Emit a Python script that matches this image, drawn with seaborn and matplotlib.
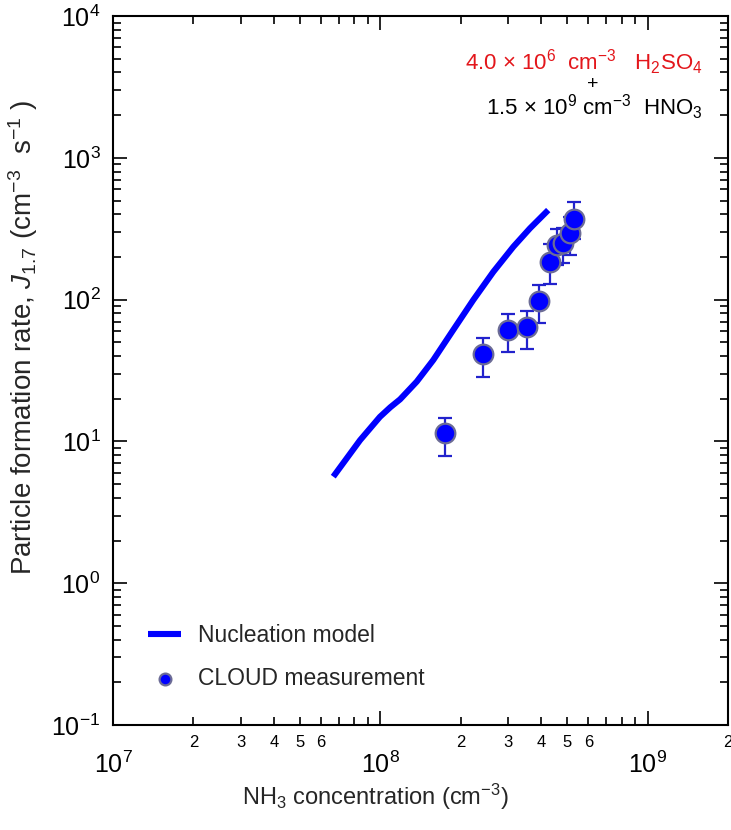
import numpy as np
import pandas as pd
import matplotlib
matplotlib.use("Agg")
import matplotlib.pyplot as plt
import matplotlib.ticker as mticker
import seaborn as sns

# ---- data ----
model_nh3 = [6.67e7, 8.40e7, 9.97e7, 1.09e8, 1.186e8, 1.369e8, 1.579e8, 1.875e8,
             2.228e8, 2.648e8, 3.147e8, 3.63e8, 4.25e8]
model_j = [5.64, 10.2, 14.9, 17.4, 19.8, 26.4, 37.5, 61.1, 99.4, 157, 236, 318, 428]

meas_nh3 = [1.75e8, 2.43e8, 3.01e8, 3.53e8, 3.94e8, 4.31e8, 4.57e8, 4.84e8,
            5.13e8, 5.32e8]
meas_j = [11.4, 41.1, 61.1, 63.8, 98.2, 185, 243, 249, 293, 373]
meas_lo = [7.9, 28.6, 43.0, 44.9, 68.1, 129, 175, 180, 206, 266]
meas_hi = [14.6, 53.4, 78.7, 83.2, 126.8, 245, 313, 320, 380, 490]

minor_labels = [2, 3, 4, 5, 6]

model_df = pd.DataFrame({"nh3": model_nh3, "j": model_j})
meas_df = pd.DataFrame({"nh3": meas_nh3, "j": meas_j})

# ---- style ----
sns.set_style("ticks")
plt.rcParams["font.family"] = ["Liberation Sans", "DejaVu Sans"]
plt.rcParams["mathtext.fontset"] = "custom"
plt.rcParams["mathtext.rm"] = "Liberation Sans"
plt.rcParams["mathtext.it"] = "Liberation Sans:italic"
plt.rcParams["mathtext.bf"] = "Liberation Sans:bold"

fig = plt.figure(figsize=(7.31, 8.30), dpi=100)
ax = fig.add_axes([0.1546, 0.1265, 0.8413, 0.8542])

sns.lineplot(data=model_df, x="nh3", y="j", ax=ax, color="#0000ff",
             linewidth=4.4, label="Nucleation model", zorder=2,
             solid_capstyle="butt", solid_joinstyle="round")

yerr = np.array([np.array(meas_j) - np.array(meas_lo),
                 np.array(meas_hi) - np.array(meas_j)])
ax.errorbar(meas_nh3, meas_j, yerr=yerr, fmt="none", ecolor="#2222cc",
            elinewidth=1.6, capsize=5, capthick=1.6, zorder=3)

sns.scatterplot(data=meas_df, x="nh3", y="j", ax=ax, color="#0000ff",
                edgecolor="#6c6c96", linewidth=1.6, s=200, zorder=4,
                label="CLOUD measurement")

ax.set_xscale("log")
ax.set_yscale("log")
ax.set_xlim(1e7, 2e9)
ax.set_ylim(1e-1, 1e4)

# ticks
ax.xaxis.set_major_locator(mticker.LogLocator(base=10, numticks=10))
ax.xaxis.set_minor_locator(mticker.LogLocator(base=10, subs=np.arange(2, 10), numticks=20))
ax.yaxis.set_major_locator(mticker.LogLocator(base=10, numticks=10))
ax.yaxis.set_minor_locator(mticker.LogLocator(base=10, subs=np.arange(2, 10), numticks=20))


def minor_fmt(v, pos):
    if v <= 0:
        return ""
    e = np.floor(np.log10(v) + 1e-9)
    m = int(round(v / 10 ** e))
    return str(m) if m in minor_labels else ""


ax.xaxis.set_minor_formatter(mticker.FuncFormatter(minor_fmt))
ax.yaxis.set_minor_formatter(mticker.NullFormatter())

ax.tick_params(axis="both", which="both", direction="in", top=True, right=True,
               width=1.2, colors="black")
ax.tick_params(axis="both", which="major", length=10)
ax.tick_params(axis="both", which="minor", length=5.5)
ax.tick_params(axis="x", which="major", labelsize=18, pad=19)
ax.tick_params(axis="x", which="minor", labelsize=12, pad=7)
ax.tick_params(axis="y", which="major", labelsize=18, pad=9)

for s in ax.spines.values():
    s.set_linewidth(1.5)
    s.set_color("black")

ax.set_xlabel("NH$_3$ concentration (cm$^{-3}$)", fontsize=17)
ax.xaxis.set_label_coords(0.426, -0.080)
ax.set_ylabel("Particle formation rate, $J_{1.7}$ (cm$^{-3}$  s$^{-1}$ )",
              fontsize=20)
ax.yaxis.set_label_coords(-0.118, 0.547)

# annotations
ax.text(0.958, 0.935, r"4.0 × 10$^{6}$  cm$^{-3}$   H$_2$SO$_4$", transform=ax.transAxes,
        ha="right", va="center", fontsize=16, color="#e3161b")
ax.text(0.780, 0.903, "+", transform=ax.transAxes, ha="center", va="center",
        fontsize=14, color="black")
ax.text(0.959, 0.872, r"1.5 × 10$^{9}$ cm$^{-3}$  HNO$_3$", transform=ax.transAxes,
        ha="right", va="center", fontsize=16, color="black")

leg = ax.legend(loc="upper left", bbox_to_anchor=(0.057, 0.142), frameon=False,
                fontsize=16.5, handlelength=1.45, handletextpad=0.75,
                labelspacing=0.85, borderpad=0, borderaxespad=0, markerscale=0.6)

fig.savefig("out.png", dpi=100)
